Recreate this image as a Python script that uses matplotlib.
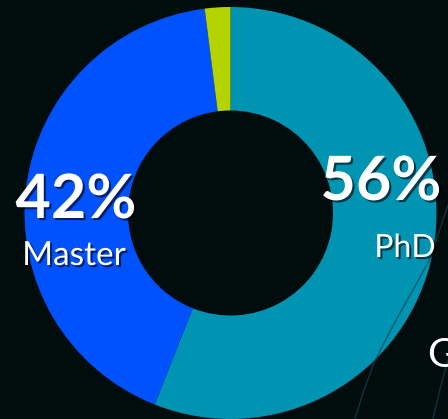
import matplotlib.pyplot as plt
import matplotlib.patheffects as pe
from matplotlib.lines import Line2D

# Data
labels = ["PhD", "Master", ""]
shares = [56, 42, 2]
colors = ["#0093b2", "#0052ff", "#b5d300"]
pct_labels = ["56%", "42%"]

bg = "#010c0d"

fig = plt.figure(figsize=(4.48, 4.19), dpi=100, facecolor=bg)
ax = fig.add_axes([0, 0, 1, 1])
ax.set_facecolor(bg)

# faint decorative curves in the background
ax.add_line(Line2D([448, 430, 413, 400, 387, 374, 363, 355],
                   [214, 160, 129, 106, 82, 56, 26, 0],
                   color="#134550", lw=1.0, alpha=0.7))
ax.add_line(Line2D([448, 440, 433], [59, 30, 0],
                   color="#134550", lw=1.0, alpha=0.7))

# donut
ax.pie(shares, colors=colors, startangle=90, counterclock=False,
       center=(230.5, 206), radius=206, frame=True,
       wedgeprops=dict(width=103.5, linewidth=0))
ax.set_xlim(0, 448)
ax.set_ylim(0, 419)
ax.set_aspect("equal")
ax.axis("off")

shadow = [pe.SimplePatchShadow(offset=(1.5, -1.5), shadow_rgbFace="black", alpha=0.6),
          pe.Normal()]

ax.text(381, 219, pct_labels[0], ha="center", va="baseline", color="white",
        fontsize=44, fontweight="bold", family="Lato", path_effects=shadow)
ax.text(405, 162, labels[0], ha="center", va="baseline", color="white",
        fontsize=23, fontweight="normal", family="Lato", path_effects=shadow)
ax.text(76, 201, pct_labels[1], ha="center", va="baseline", color="white",
        fontsize=44, fontweight="bold", family="Lato", path_effects=shadow)
ax.text(74, 154, labels[1], ha="center", va="baseline", color="white",
        fontsize=24, fontweight="normal", family="Lato", path_effects=shadow)

# partially visible label at the right edge (cut off in the source too)
ax.text(427, 52, "G", ha="left", va="baseline", color="white",
        fontsize=29, fontweight="normal", family="Lato")

fig.savefig("out.png", dpi=100, facecolor=bg)
